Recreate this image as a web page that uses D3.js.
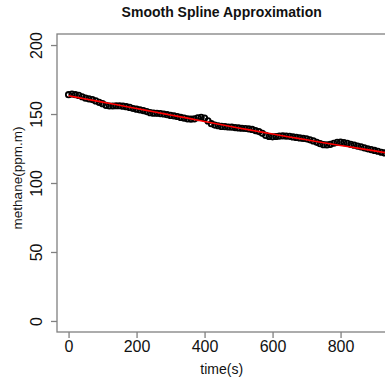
<!DOCTYPE html>
<html>
<head>
<meta charset="utf-8">
<script src="https://cdn.jsdelivr.net/npm/d3@7"></script>
<style>
  body { margin: 0; background: #fff; }
  text { font-family: "Liberation Sans", Arial, sans-serif; }
</style>
</head>
<body>
<div id="chart"></div>
<script>
// observed methane readings, one every 10 s from t = 0
const obsStep = 10;
const methane = [
  164, 164.5, 164, 163.5, 162.5, 161.5, 161, 160.5, 159.5, 158.5,
  157.5, 156.3, 155.8, 155.8, 156, 156, 155.7, 155.3, 154.8, 154,
  153.5, 153, 152.5, 151.8, 151, 150.6, 150.5, 150.3, 150, 149.5,
  149, 148.7, 148.2, 147.5, 147, 146.5, 146.3, 146.5, 147.3, 147.6,
  147, 145, 143, 142, 141.5, 141, 140.8, 140.6, 140.5, 140.2,
  139.9, 139.7, 139.5, 139.2, 138.8, 138, 137.3, 136, 134.5, 133.7,
  133.5, 133.7, 134, 134.1, 134, 133.8, 133.4, 133, 132.7, 132.3,
  132, 131.3, 130.5, 129.5, 128.5, 127.8, 127.6, 128, 128.8, 129.5,
  129.6, 129.3, 128.7, 128, 127.4, 126.8, 126.2, 125.5, 124.8, 124.2,
  123.6, 123, 122.3, 121.8, 121.3
];

// smoothing spline fit
const splineTime = [0, 50, 100, 150, 200, 250, 300, 350, 400, 450, 500, 550, 600, 650, 700, 750, 800, 850, 900, 940];
const splineValue = [163.2, 160.9, 158.6, 156.3, 154, 151.6, 149.3, 147, 144.6, 142.2, 139.9, 137.7, 135.5, 133.4, 131.3, 129.2, 127.2, 125.3, 123.3, 121.6];

const xTicks = [0, 200, 400, 600, 800];
const yTicks = [0, 50, 100, 150, 200];

const width = 385, height = 380;
const box = {left: 57, top: 34, right: 387, bottom: 332};

const svg = d3.select('#chart')
  .append('svg')
  .attr('width', width)
  .attr('height', height);

const x = d3.scaleLinear()
  .domain([-34, 935])
  .range([box.left, box.left + 969 * 0.34]);

const y = d3.scaleLinear()
  .domain([-8, 208])
  .range([box.bottom, box.top]);

const obs = methane.map((v, i) => ({t: i * obsStep, v: v}));
const fit = splineTime.map((t, i) => ({t: t, v: splineValue[i]}));

// points
svg.append('g')
  .selectAll('circle')
  .data(obs)
  .enter()
  .append('circle')
  .attr('cx', d => x(d.t))
  .attr('cy', d => y(d.v))
  .attr('r', 2.7)
  .attr('fill', 'none')
  .attr('stroke', '#000')
  .attr('stroke-width', 1.8);

// spline line
const line = d3.line()
  .x(d => x(d.t))
  .y(d => y(d.v))
  .curve(d3.curveMonotoneX);

svg.append('path')
  .datum(fit)
  .attr('fill', 'none')
  .attr('stroke', '#ff0000')
  .attr('stroke-width', 1.6)
  .attr('d', line);

// box
svg.append('rect')
  .attr('x', box.left)
  .attr('y', box.top)
  .attr('width', box.right - box.left)
  .attr('height', box.bottom - box.top)
  .attr('fill', 'none')
  .attr('stroke', '#808080')
  .attr('stroke-width', 1.3);

// axes
const xAxis = svg.append('g')
  .attr('transform', `translate(0,${box.bottom})`)
  .call(d3.axisBottom(x).tickValues(xTicks).tickSize(6));
xAxis.select('.domain').remove();
xAxis.selectAll('line').attr('stroke', '#808080').attr('stroke-width', 1.3);
xAxis.selectAll('text')
  .attr('y', 20)
  .attr('dy', 0)
  .style('font-size', '16px')
  .attr('fill', '#111');

const yAxis = svg.append('g')
  .attr('transform', `translate(${box.left},0)`)
  .call(d3.axisLeft(y).tickValues(yTicks).tickSize(6));
yAxis.select('.domain').remove();
yAxis.selectAll('line').attr('stroke', '#808080').attr('stroke-width', 1.3);
yAxis.selectAll('text')
  .attr('transform', 'rotate(-90)')
  .attr('x', 0)
  .attr('y', -15)
  .attr('dy', 0)
  .style('text-anchor', 'middle')
  .style('font-size', '16px')
  .attr('fill', '#111');

// titles
svg.append('text')
  .attr('x', 221.7)
  .attr('y', 17.3)
  .attr('text-anchor', 'middle')
  .style('font-size', '14px')
  .style('font-weight', 'bold')
  .attr('fill', '#111')
  .text('Smooth Spline Approximation');

svg.append('text')
  .attr('x', 221.7)
  .attr('y', 374)
  .attr('text-anchor', 'middle')
  .style('font-size', '14px')
  .attr('fill', '#111')
  .text('time(s)');

svg.append('text')
  .attr('transform', 'translate(21.5,178) rotate(-90)')
  .attr('text-anchor', 'middle')
  .style('font-size', '13.5px')
  .attr('fill', '#111')
  .text('methane(ppm.m)');
</script>
</body>
</html>
